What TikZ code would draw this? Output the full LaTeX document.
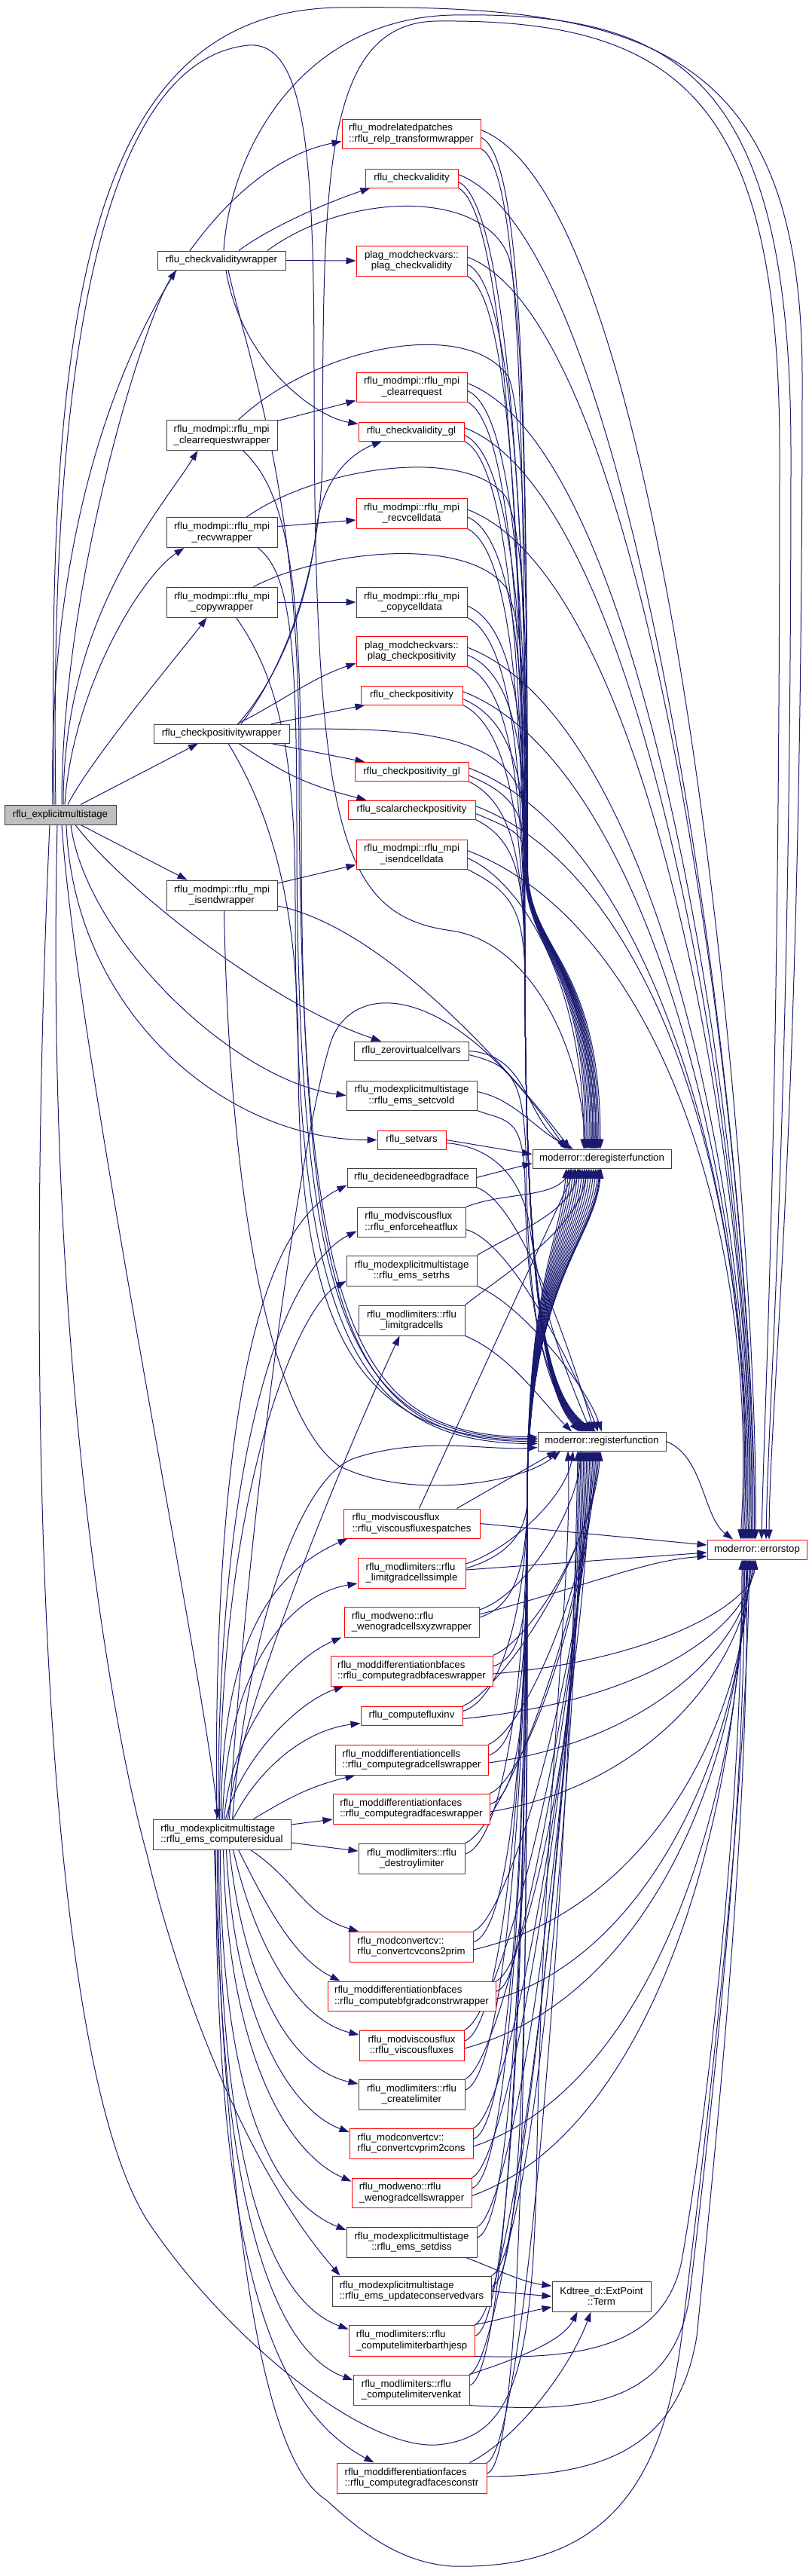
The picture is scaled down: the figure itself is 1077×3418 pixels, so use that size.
\documentclass[tikz,border=0pt]{standalone}
\usepackage{fontspec}
\newfontfamily\gvfont{Liberation Sans}
\usetikzlibrary{arrows.meta}
\definecolor{eblue}{HTML}{191970}
\definecolor{bord}{HTML}{404040}
\definecolor{rootgray}{HTML}{BFBFBF}
\definecolor{nred}{HTML}{FF0000}
\newcommand\gvf{\gvfont\fontsize{13.2}{14.3}\selectfont}
\pgfdeclarelayer{bg}
\pgfsetlayers{bg,main}
\tikzset{
  nb/.style={draw=bord,line width=1pt,inner sep=0pt,font=\gvf,align=center,minimum height=25,fill=white},
  nr/.style={nb,draw=nred},
  tl/.style={minimum height=40},
  la/.style={align=left},
  conn/.style={draw=eblue,line width=1pt,-{Triangle[length=13pt,width=9pt]}},
}
\newcommand\eC[4]{\draw[conn] (#1) .. controls +(#3) and +(#4) .. (#2);}
\newcommand\eUD[3]{\draw[conn] ([yshift=-5]#1.east) .. controls +(60,25) and (699,{#2+0.45*(1150-#2)}) .. ({701+(#3)/5},1150) .. controls ({701+(#3)/5},1265) and ({799+(#3)},1270) .. ([xshift=#3]dereg.north);}
\newcommand\eUR[3]{\draw[conn] (#1.south east) .. controls +(60,30) and (696,{#2+0.45*(1300-#2)}) .. (697,1300) .. controls (698,1780) and (735,1860) .. ([xshift=#3]reg.north);}
\newcommand\eUE[2]{\draw[conn] ([yshift=5]#1.east) .. controls +(260,100) and (1008,1650) .. ([xshift=#2]es.north);}
\newcommand\eLD[3]{\draw[conn] ([yshift=6]#1.east) .. controls +(50,-15) and (699,{#2-0.5*(#2-1990)}) .. (700,1990) .. controls (700,1700) and ({790+(#3)},1650) .. ([xshift=#3]dereg.south);}
\newcommand\eLR[3]{\draw[conn] (#1.north east) .. controls +(50,-20) and ({790+(#3)},{1925+0.4*(#2-1925)}) .. ([xshift=#3]reg.south);}
\newcommand\eLE[3]{\draw[conn] ([yshift=-4]#1.east) .. controls (870,{#2-0.1*(#2-2069)}) and ({1000+(#3)},{2069+0.4*(#2-2069)}) .. ([xshift=#3]es.south);}
\begin{document}
\begin{tikzpicture}[x=1pt,y=-1pt]
\useasboundingbox (0,0) rectangle (1077,3418);
% ---------- nodes ----------
\node[nb,fill=rootgray,minimum width=148,minimum height=26] (root) at (80,1081) {rflu\_explicitmultistage};
\node[nb,minimum width=170] (cvw) at (294,345.5) {rflu\_checkvaliditywrapper};
\node[nb,tl,la,minimum width=147] (crw) at (294.5,577.5) {rflu\_modmpi::rflu\_mpi\\\_clearrequestwrapper};
\node[nb,tl,minimum width=147] (rvw) at (294.5,706.5) {rflu\_modmpi::rflu\_mpi\\\_recvwrapper};
\node[nb,tl,minimum width=147] (cpw) at (294.5,799) {rflu\_modmpi::rflu\_mpi\\\_copywrapper};
\node[nb,minimum width=180] (cpsw) at (294,973.5) {rflu\_checkpositivitywrapper};
\node[nb,tl,minimum width=147] (isw) at (294.5,1188) {rflu\_modmpi::rflu\_mpi\\\_isendwrapper};
\node[nb,tl,la,minimum width=183] (cres) at (294.5,2434) {rflu\_modexplicitmultistage\\::rflu\_ems\_computeresidual};
% column 2
\node[nr,tl,la,minimum width=184,minimum height=39] (relp) at (546,177.5) {rflu\_modrelatedpatches\\::rflu\_relp\_transformwrapper};
\node[nr,minimum width=123] (cv) at (546.5,236.5) {rflu\_checkvalidity};
\node[nr,tl,minimum width=147] (plagcv) at (546.5,346) {plag\_modcheckvars::\\plag\_checkvalidity};
\node[nr,tl,minimum width=147,minimum height=39] (clr) at (546.5,513.5) {rflu\_modmpi::rflu\_mpi\\\_clearrequest};
\node[nr,minimum width=140] (cvgl) at (546,572.5) {rflu\_checkvalidity\_gl};
\node[nr,tl,minimum width=147] (rcd) at (546.5,681) {rflu\_modmpi::rflu\_mpi\\\_recvcelldata};
\node[nb,tl,minimum width=147] (ccd) at (546.5,799) {rflu\_modmpi::rflu\_mpi\\\_copycelldata};
\node[nr,tl,minimum width=147] (plagcp) at (546.5,864) {plag\_modcheckvars::\\plag\_checkpositivity};
\node[nr,minimum width=135] (cp) at (546.5,922.5) {rflu\_checkpositivity};
\node[nr,minimum width=151] (cpgl) at (546.5,1024) {rflu\_checkpositivity\_gl};
\node[nr,minimum width=169] (scp) at (546.5,1074.5) {rflu\_scalarcheckpositivity};
\node[nr,tl,minimum width=147,minimum height=39] (isd) at (546.5,1133.5) {rflu\_modmpi::rflu\_mpi\\\_isendcelldata};
\node[nb,minimum width=152] (zvc) at (546,1394.5) {rflu\_zerovirtualcellvars};
\node[nb,tl,minimum width=173,minimum height=39] (scvo) at (546.5,1453.5) {rflu\_modexplicitmultistage\\::rflu\_ems\_setcvold};
\node[nr,minimum width=91] (sv) at (546.5,1512.5) {rflu\_setvars};
\node[nb,minimum width=171] (dnb) at (546.5,1562.5) {rflu\_decideneedbgradface};
\node[nb,tl,la,minimum width=144,minimum height=39] (ehf) at (546,1621.5) {rflu\_modviscousflux\\::rflu\_enforceheatflux};
\node[nb,tl,minimum width=173] (srhs) at (546.5,1686) {rflu\_modexplicitmultistage\\::rflu\_ems\_setrhs};
\node[nb,tl,minimum width=141] (lgc) at (546.5,1752) {rflu\_modlimiters::rflu\\\_limitgradcells};
\node[nr,tl,la,minimum width=181,minimum height=39] (vfp) at (546.5,2021.5) {rflu\_modviscousflux\\::rflu\_viscousfluxespatches};
\node[nr,tl,la,minimum width=143] (lgcs) at (546.5,2087) {rflu\_modlimiters::rflu\\\_limitgradcellssimple};
\node[nr,tl,la,minimum width=179] (wxyz) at (546.5,2152) {rflu\_modweno::rflu\\\_wenogradcellsxyzwrapper};
\node[nr,tl,la,minimum width=215] (gbfw) at (546.5,2217) {rflu\_moddifferentiationbfaces\\::rflu\_computegradbfaceswrapper};
\node[nr,minimum width=135] (cfi) at (546.5,2276.5) {rflu\_computefluxinv};
\node[nr,tl,la,minimum width=203] (gcw) at (546.5,2335) {rflu\_moddifferentiationcells\\::rflu\_computegradcellswrapper};
\node[nr,tl,la,minimum width=208] (gfw) at (546,2400) {rflu\_moddifferentiationfaces\\::rflu\_computegradfaceswrapper};
\node[nb,tl,minimum width=141] (dl) at (546.5,2466) {rflu\_modlimiters::rflu\\\_destroylimiter};
\node[nr,tl,la,minimum width=164] (c2p) at (546,2583) {rflu\_modconvertcv::\\rflu\_convertcvcons2prim};
\node[nr,tl,la,minimum width=223,minimum height=39] (bfgc) at (546.5,2648.5) {rflu\_moddifferentiationbfaces\\::rflu\_computebfgradconstrwrapper};
\node[nr,tl,minimum width=139] (vf) at (546.5,2714) {rflu\_modviscousflux\\::rflu\_viscousfluxes};
\node[nb,tl,minimum width=141] (cl) at (546.5,2779) {rflu\_modlimiters::rflu\\\_createlimiter};
\node[nr,tl,la,minimum width=164] (p2c) at (546,2844) {rflu\_modconvertcv::\\rflu\_convertcvprim2cons};
\node[nr,tl,la,minimum width=159,minimum height=39] (wgc) at (546.5,2909.5) {rflu\_modweno::rflu\\\_wenogradcellswrapper};
\node[nb,tl,minimum width=173] (sd) at (546.5,2975) {rflu\_modexplicitmultistage\\::rflu\_ems\_setdiss};
\node[nb,tl,la,minimum width=211] (ucv) at (546.5,3040) {rflu\_modexplicitmultistage\\::rflu\_ems\_updateconservedvars};
\node[nr,tl,la,minimum width=167,minimum height=41] (lbj) at (546.5,3105.5) {rflu\_modlimiters::rflu\\\_computelimiterbarthjesp};
\node[nr,tl,la,minimum width=154] (lv) at (546,3171) {rflu\_modlimiters::rflu\\\_computelimitervenkat};
\node[nr,tl,la,minimum width=199] (gfc) at (546.5,3288) {rflu\_moddifferentiationfaces\\::rflu\_computegradfacesconstr};
% column 3/4
\node[nb,minimum width=184] (dereg) at (799,1537.5) {moderror::deregisterfunction};
\node[nb,minimum width=170] (reg) at (799,1912.5) {moderror::registerfunction};
\node[nb,tl,minimum width=131] (kd) at (798.5,3047) {Kdtree\_d::ExtPoint\\::Term};
\node[nr,minimum width=132,minimum height=26] (es) at (1005,2056) {moderror::errorstop};
% ---------- edges ----------
\begin{pgfonlayer}{bg}
\fill[white] (0,0) rectangle (1077,3418);
% root
\eC{[xshift=-10]root.north}{[yshift=-10]relp.west}{-10,-500}{-200,40}
\eC{[xshift=2]root.north}{[xshift=-60]cvw.south}{0,-300}{-40,60}
\eC{[xshift=4]root.north}{[xshift=-32]crw.south}{0,-250}{-50,80}
\eC{[xshift=6]root.north}{[xshift=-50]rvw.south}{10,-150}{-60,40}
\eC{[xshift=10]root.north}{[xshift=-20]cpw.south}{30,-60}{-30,40}
\draw[conn] ([xshift=27]root.north) -- ([xshift=-31]cpsw.south);
\draw[conn] ([xshift=27]root.south) -- ([xshift=-46]isw.north);
\eC{[xshift=20]root.south}{[xshift=-40]zvc.north}{60,80}{-150,-50}
\eC{[xshift=14]root.south}{scvo.west}{20,150}{-150,-20}
\eC{[xshift=8]root.south}{sv.west}{10,250}{-200,0}
\eC{[xshift=2]root.south}{[xshift=-5]cres.north}{20,300}{-20,-200}
\draw[conn] ([xshift=-4]root.south) .. controls (60,1800) and (150,2300) .. (195,2460) .. controls (240,2650) and (330,2880) .. ([xshift=-95]ucv.north);
\draw[conn] ([xshift=-8]root.north) .. controls (60,400) and (120,15) .. (450,10) .. controls (850,5) and (1065,60) .. (1065,500) .. controls (1065,1500) and (1022,1850) .. ([xshift=16]es.north);
\draw[conn] ([xshift=-6]root.north) .. controls (65,500) and (130,80) .. (330,60) .. controls (405,55) and (417,200) .. (417,500) .. controls (417,1100) and (450,1215) .. (600,1235) .. controls (700,1250) and (770,1380) .. ([xshift=-22]dereg.north);
\draw[conn] ([xshift=-14]root.south) .. controls (30,1900) and (60,2750) .. (200,2953) .. controls (300,3100) and (480,3250) .. (580,3244) .. controls (680,3235) and (705,3150) .. (712,2900) .. controls (720,2400) and (760,2100) .. ([xshift=-45]reg.south);
% cvw
\eC{[xshift=23]cvw.north}{[xshift=-55]cv.south}{40,-30}{-60,20}
\draw[conn] (cvw.east) -- (plagcv.west);
\eC{[xshift=6]cvw.south}{[yshift=10]cvgl.west}{20,120}{-60,-10}
\draw[conn] ([xshift=61]cvw.north) .. controls (460,255) and (640,250) .. (675,340) .. controls (700,420) and (700,900) .. (700,1150) .. controls (700,1265) and (787,1270) .. ([xshift=-12]dereg.north);
\draw[conn] ([xshift=9]cvw.south) .. controls (330,480) and (397,650) .. (397,1000) .. controls (397,1750) and (465,1906) .. ([yshift=6]reg.west);
\draw[conn] ([xshift=3]cvw.north) .. controls (305,200) and (400,25) .. (600,20) .. controls (900,15) and (1050,100) .. (1050,600) .. controls (1050,1500) and (1020,1850) .. ([xshift=12]es.north);
% crw
\draw[conn] ([yshift=19]crw.east) -- ([yshift=-18]clr.west);
\draw[conn] ([xshift=22]crw.north) .. controls (420,460) and (620,420) .. (675,500) .. controls (700,560) and (700,900) .. (700,1150) .. controls (700,1265) and (789,1270) .. ([xshift=-10]dereg.north);
\draw[conn] ([xshift=28]crw.south) .. controls (390,660) and (400,800) .. (400,1100) .. controls (400,1750) and (465,1912) .. (reg.west);
% rvw
\draw[conn] ([yshift=8]rvw.east) -- ([yshift=-9]rcd.west);
\draw[conn] ([xshift=33]rvw.north) .. controls (420,620) and (620,590) .. (672,660) .. controls (700,720) and (700,900) .. (700,1150) .. controls (700,1265) and (791,1270) .. ([xshift=-8]dereg.north);
\draw[conn] ([xshift=48]rvw.south) .. controls (385,760) and (394,850) .. (394,1100) .. controls (394,1750) and (465,1908) .. ([yshift=4]reg.west);
% cpw
\draw[conn] (cpw.east) -- (ccd.west);
\draw[conn] ([xshift=42]cpw.north) .. controls (430,730) and (620,710) .. (672,780) .. controls (700,840) and (700,1000) .. (700,1150) .. controls (700,1265) and (793,1270) .. ([xshift=-6]dereg.north);
\draw[conn] ([xshift=19]cpw.south) .. controls (370,900) and (392,1000) .. (392,1200) .. controls (392,1750) and (465,1914) .. ([yshift=-3]reg.west);
% cpsw
\eC{[xshift=21]cpsw.north}{[yshift=-16]plagcp.west}{60,-30}{-60,20}
\draw[conn] ([xshift=66]cpsw.north) -- ([xshift=-62]cp.south);
\draw[conn] ([xshift=66]cpsw.south) -- ([xshift=-62]cpgl.north);
\eC{[xshift=23]cpsw.south}{[xshift=-60]scp.north}{60,40}{-80,-20}
\draw[conn] ([yshift=6]cpsw.east) .. controls (550,965) and (660,975) .. (690,1050) .. controls (700,1090) and (700,1120) .. (700,1150) .. controls (700,1265) and (785,1270) .. ([xshift=-14]dereg.north);
\draw[conn] ([xshift=9]cpsw.south) .. controls (360,1080) and (396,1200) .. (396,1400) .. controls (396,1750) and (465,1910) .. ([yshift=2]reg.west);
\draw[conn] ([xshift=22]cpsw.north) .. controls (370,900) and (410,800) .. (420,700) .. controls (430,630) and (470,600) .. ([xshift=-39]cvgl.south);
\draw[conn] ([xshift=26]cpsw.north) .. controls (375,890) and (428,760) .. (428,600) .. controls (430,250) and (425,30) .. (580,28) .. controls (900,25) and (1035,130) .. (1035,600) .. controls (1035,1500) and (1015,1850) .. ([xshift=6]es.north);
% isw
\draw[conn] ([yshift=16]isw.east) -- ([yshift=-14]isd.west);
\eC{[yshift=-14]isw.east}{[xshift=-42]dereg.north}{150,30}{-60,-80}
\draw[conn] ([xshift=3]isw.south) .. controls (305,1600) and (360,1880) .. (450,1945) .. controls (540,1990) and (690,1970) .. ([xshift=-55]reg.south);
% cres
\draw[conn] ([yshift=13]cres.east) -- ([yshift=-14]gfw.west);
\draw[conn] ([yshift=-11]cres.east) -- ([yshift=10]dl.west);
\eC{[xshift=42]cres.north}{[xshift=-75]gcw.south}{50,-30}{-60,15}
\eC{[xshift=15]cres.north}{[yshift=-10]cfi.west}{30,-60}{-80,10}
\eC{[xshift=5]cres.north}{[xshift=-90]gbfw.south}{20,-80}{-60,20}
\eC{[xshift=3]cres.north}{[xshift=-93]wxyz.south}{10,-120}{-70,30}
\eC{[xshift=1]cres.north}{[yshift=-14]lgcs.west}{5,-200}{-90,15}
\eC{[xshift=-1]cres.north}{[xshift=-85]vfp.south}{0,-250}{-90,40}
\draw[conn] ([xshift=8]cres.north) .. controls (320,2250) and (480,1880) .. ([xshift=-16]lgc.south);
\eC{[xshift=-3]cres.north}{[yshift=-14]srhs.west}{0,-450}{-60,30}
\eC{[xshift=-5]cres.north}{[yshift=-12]ehf.west}{0,-550}{-80,40}
\eC{[xshift=-7]cres.north}{[yshift=-10]dnb.west}{-5,-600}{-100,50}
\eC{[xshift=38]cres.south}{[xshift=-70]c2p.north}{60,40}{-70,-20}
\eC{[xshift=22]cres.south}{[xshift=-95]bfgc.north}{40,80}{-60,-30}
\eC{[xshift=15]cres.south}{[yshift=14]vf.west}{30,130}{-80,-20}
\eC{[xshift=10]cres.south}{[yshift=14]cl.west}{20,180}{-90,-20}
\eC{[xshift=6]cres.south}{[yshift=15]p2c.west}{10,220}{-80,-30}
\eC{[xshift=2]cres.south}{[yshift=15]wgc.west}{5,260}{-90,-40}
\eC{[xshift=-2]cres.south}{[yshift=16]sd.west}{0,320}{-100,-40}
\eC{[xshift=-4]cres.south}{[yshift=15]lbj.west}{0,400}{-110,-40}
\eC{[xshift=-6]cres.south}{[yshift=13]lv.west}{0,450}{-110,-40}
\eC{[xshift=-8]cres.south}{[xshift=-50]gfc.north}{0,500}{-150,-80}
\draw[conn] ([xshift=10]cres.north) .. controls (330,2000) and (400,1500) .. (440,1380) .. controls (470,1300) and (600,1300) .. ([xshift=-48]dereg.north);
\draw[conn] ([xshift=14]cres.north) .. controls (330,2150) and (400,1960) .. (470,1935) .. controls (560,1905) and (650,1925) .. ([yshift=-8]reg.west);
\draw[conn] ([xshift=-10]cres.south) .. controls (300,2900) and (340,3260) .. (433,3317) .. controls (480,3360) and (530,3400) .. (600,3405) .. controls (800,3410) and (880,3300) .. (905,3100) .. controls (935,2850) and (990,2400) .. ([xshift=-10]es.south);
% upper column 2
\eUD{relp}{177.5}{-2} \eUR{relp}{177.5}{-8} \eUE{relp}{-2}
\eUD{cv}{236.5}{-4} \eUR{cv}{236.5}{-10} \eUE{cv}{-4}
\eUD{plagcv}{346}{-6} \eUR{plagcv}{346}{-12} \eUE{plagcv}{-6}
\eUD{clr}{513.5}{-8} \eUR{clr}{513.5}{-14} \eUE{clr}{-8}
\eUD{cvgl}{572.5}{-10} \eUR{cvgl}{572.5}{-16} \eUE{cvgl}{-10}
\eUD{rcd}{681}{-12} \eUR{rcd}{681}{-18} \eUE{rcd}{-12}
\eUD{ccd}{799}{-14} \eUR{ccd}{799}{-20}
\eUD{plagcp}{864}{-16} \eUR{plagcp}{864}{-22} \eUE{plagcp}{-14}
\eUD{cp}{922.5}{-18} \eUR{cp}{922.5}{-24} \eUE{cp}{-16}
\eUD{cpgl}{1024}{-20} \eUR{cpgl}{1024}{-26} \eUE{cpgl}{-18}
\eUD{scp}{1074.5}{-22} \eUR{scp}{1074.5}{-28} \eUE{scp}{-20}
\draw[conn] ([yshift=-5]isd.east) .. controls +(70,30) and (775,1300) .. ([xshift=-24]dereg.north);
\eUR{isd}{1133.5}{-30} \eUE{isd}{-22}
% middle column 2
\draw[conn] (zvc.east) .. controls +(80,5) and +(-60,-40) .. ([xshift=-42]dereg.north);
\draw[conn] ([yshift=-5]zvc.east) .. controls +(60,15) and (697,1430) .. (699,1560) .. controls (701,1800) and (740,1860) .. ([xshift=-25]reg.north);
\draw[conn] ([yshift=5]scvo.east) .. controls +(50,10) and +(-50,-25) .. ([xshift=-38]dereg.north);
\draw[conn] (scvo.south east) .. controls +(40,15) and (695,1480) .. (697,1570) .. controls (699,1800) and (745,1860) .. ([xshift=-20]reg.north);
\draw[conn] (sv.east) -- ([yshift=6]dereg.west);
\draw[conn] ([yshift=-4]sv.east) .. controls +(60,5) and (690,1560) .. (702,1620) .. controls (720,1750) and (760,1840) .. ([xshift=-15]reg.north);
\draw[conn] (dnb.east) -- ([yshift=-6]dereg.west);
\draw[conn] (dnb.south east) .. controls +(60,20) and +(-30,-100) .. ([xshift=-10]reg.north);
\draw[conn] (ehf.north east) .. controls +(50,-20) and +(-25,40) .. ([xshift=-40]dereg.south);
\draw[conn] ([yshift=-10]ehf.east) .. controls +(60,15) and +(-30,-80) .. ([xshift=-5]reg.north);
\draw[conn] (srhs.north east) .. controls +(50,-30) and +(-15,60) .. ([xshift=-30]dereg.south);
\draw[conn] (srhs.south east) .. controls +(60,25) and +(-20,-60) .. (reg.north);
\draw[conn] (lgc.north east) .. controls +(50,-40) and +(-10,80) .. ([xshift=-20]dereg.south);
\draw[conn] (lgc.south east) .. controls +(60,25) and +(-40,-40) .. ([xshift=-40]reg.north);
\draw[conn] ([xshift=10]vfp.north) -- ([xshift=-35]dereg.south);
\draw[conn] ([xshift=60]vfp.north) -- ([xshift=-60]reg.south);
\draw[conn] (vfp.east) -- ([yshift=6]es.west);
\eLD{lgcs}{2087}{-1}
\draw[conn] ([yshift=12]lgcs.east) .. controls +(60,-20) and +(-10,60) .. ([xshift=-38]reg.south);
\draw[conn] ([yshift=4]lgcs.east) -- ([yshift=-4]es.west);
\eLD{wxyz}{2152}{-3}
\draw[conn] ([yshift=16]wxyz.east) .. controls +(60,-20) and +(-5,80) .. ([xshift=-28]reg.south);
\draw[conn] ([yshift=10]wxyz.east) .. controls +(150,-40) and +(-80,5) .. ([yshift=-9]es.west);
% lower column 2
\eLD{gbfw}{2217}{-2} \eLR{gbfw}{2217}{-2} \eLE{gbfw}{2217}{-2}
\eLD{cfi}{2276.5}{-5} \eLR{cfi}{2276.5}{-4} \eLE{cfi}{2276.5}{-4}
\eLD{gcw}{2335}{-8} \eLR{gcw}{2335}{-6} \eLE{gcw}{2335}{-6}
\eLD{gfw}{2400}{-11} \eLR{gfw}{2400}{-8} \eLE{gfw}{2400}{-8}
\eLD{dl}{2466}{-14} \eLR{dl}{2466}{-10}
\eLD{c2p}{2583}{-17} \eLR{c2p}{2583}{-12} \eLE{c2p}{2583}{-10}
\eLD{bfgc}{2648.5}{-20} \eLR{bfgc}{2648.5}{-14} \eLE{bfgc}{2648.5}{-12}
\eLD{vf}{2714}{-23} \eLR{vf}{2714}{-16} \eLE{vf}{2714}{-14}
\eLD{cl}{2779}{-26} \eLR{cl}{2779}{-18}
\eLD{p2c}{2844}{-29} \eLR{p2c}{2844}{-20} \eLE{p2c}{2844}{-16}
\eLD{wgc}{2909.5}{-32} \eLR{wgc}{2909.5}{-22} \eLE{wgc}{2909.5}{-18}
\eLD{sd}{2975}{-35} \eLR{sd}{2975}{-24}
\eLD{ucv}{3040}{-38} \eLR{ucv}{3040}{-26}
\eLD{lbj}{3105.5}{-41} \eLR{lbj}{3105.5}{-28}
\eLD{lv}{3171}{-44} \eLR{lv}{3171}{-30}
\eLD{gfc}{3288}{-47} \eLR{gfc}{3288}{-32}
\draw[conn] (lbj.south east) .. controls (760,3130) and (880,3120) .. (905,3000) .. controls (940,2800) and (985,2400) .. ([xshift=-20]es.south);
\draw[conn] (lv.south east) .. controls (760,3200) and (890,3200) .. (915,3050) .. controls (945,2800) and (990,2400) .. ([xshift=-17]es.south);
\draw[conn] ([yshift=2]gfc.east) .. controls (800,3285) and (900,3250) .. (925,3100) .. controls (955,2800) and (995,2400) .. ([xshift=-14]es.south);
% Kdtree
\draw[conn] ([xshift=-15]sd.south east) .. controls +(40,15) and +(-40,-5) .. ([yshift=14]kd.west);
\draw[conn] (ucv.east) -- (kd.west);
\draw[conn] (lbj.north east) .. controls +(40,-8) and +(-40,8) .. ([yshift=-14]kd.west);
\draw[conn] (lv.north east) .. controls +(60,-20) and +(-20,40) .. ([xshift=-32]kd.south);
\draw[conn] ([xshift=-23]gfc.north east) .. controls +(60,-30) and +(-30,80) .. ([xshift=-14]kd.south);
% register -> errorstop
\draw[conn] (reg.east) .. controls +(50,20) and +(-40,-30) .. ([xshift=-32]es.north);
\end{pgfonlayer}
\end{tikzpicture}
\end{document}
